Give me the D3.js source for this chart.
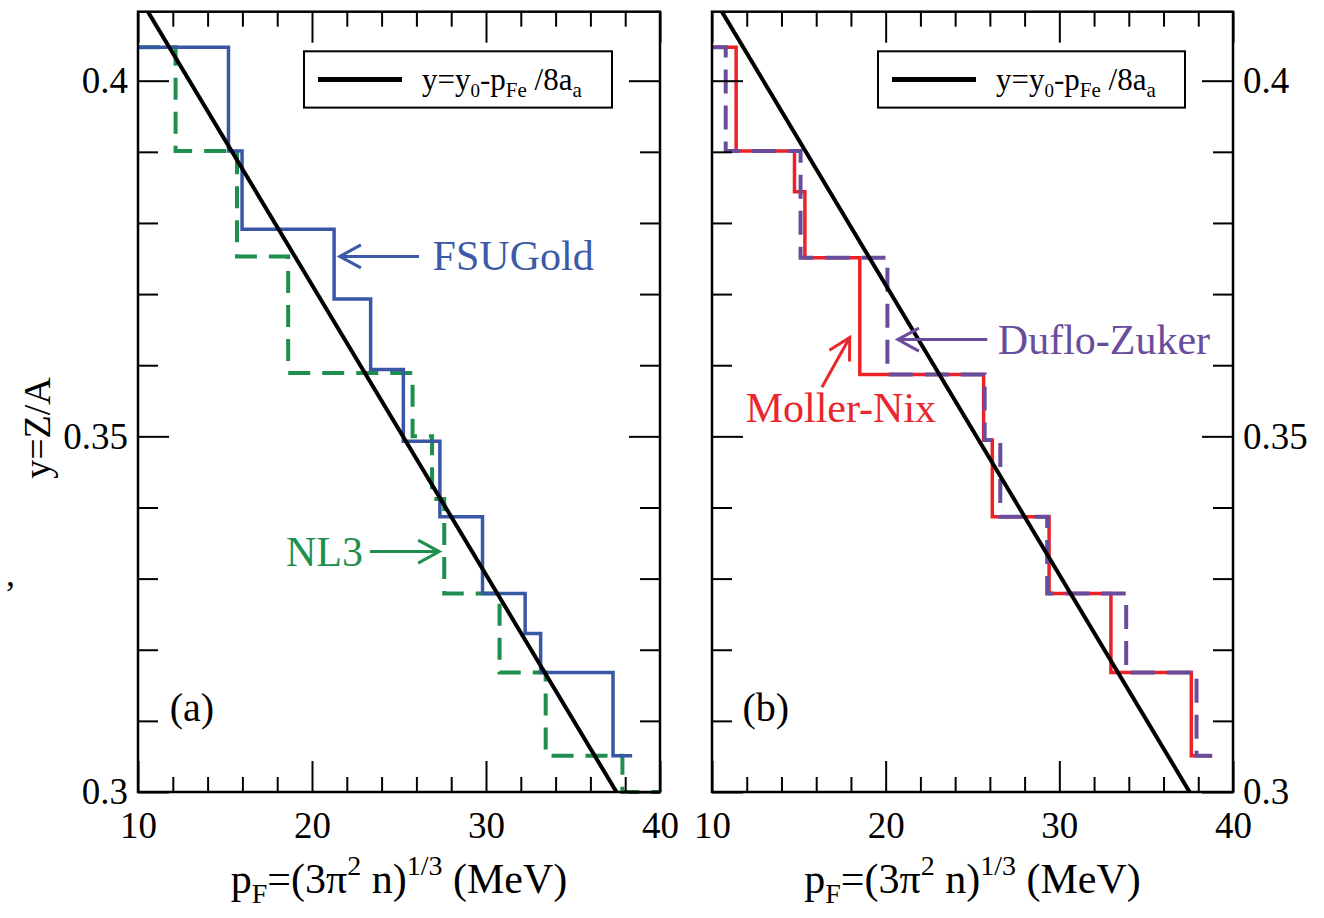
<!DOCTYPE html>
<html><head><meta charset="utf-8">
<script src="https://cdn.jsdelivr.net/npm/d3@7"></script>
<style>
body{margin:0;background:#fff}
svg{display:block}
text{font-family:"Liberation Serif","Times New Roman",serif}
</style>
</head><body>
<svg id="c" width="1324" height="918"></svg>
<script>
// ---------- data ----------
const xDomain = [10, 40];
const yDomain = [0.3, 0.4097];
const xMajorTicks = [10, 20, 30, 40];
const xTickLabels = ["10", "20", "30", "40"];
const xMinorTicks = [12, 14, 16, 18, 22, 24, 26, 28, 32, 34, 36, 38];
const yMajorTicks = [0.30, 0.35, 0.40];
const yTickLabels = ["0.3", "0.35", "0.4"];
const yMinorTicks = [0.31, 0.32, 0.33, 0.34, 0.36, 0.37, 0.38, 0.39];

// fit line y = y0 - pFe/8aa (end points inside the frame)
const fitP = [10.57, 37.5];
const fitY = [0.4097, 0.300];

// step curves: edges (p) and levels (Z/A); level i spans edge i .. edge i+1
const fsuP = [10, 15.2, 15.98, 21.27, 23.37, 25.25, 27.35, 29.8, 32.25, 33.14, 37.3, 38.4];
const fsuY = [0.4047, 0.3901, 0.3791, 0.3693, 0.3594, 0.3493, 0.3387, 0.3279, 0.3223, 0.3168, 0.3051];

const nl3P = [10, 12.16, 15.69, 18.63, 25.78, 26.9, 27.6, 30.78, 33.43, 37.84, 40];
const nl3Y = [0.4047, 0.3901, 0.3753, 0.3589, 0.3500, 0.3412, 0.3279, 0.3168, 0.3051, 0.3000];

const mnP = [10, 11.39, 14.75, 15.35, 18.51, 25.64, 26.14, 29.41, 32.97, 37.6, 38.8];
const mnY = [0.4047, 0.3901, 0.3844, 0.3751, 0.3587, 0.3495, 0.3387, 0.3279, 0.3168, 0.3051];

const dzP = [10, 10.79, 15.1, 20.1, 25.7, 26.6, 29.3, 33.85, 37.9, 38.8];
const dzY = [0.4047, 0.3901, 0.3751, 0.3587, 0.3495, 0.3387, 0.3279, 0.3168, 0.3051];

const legendText = ["y=y", "0", "-p", "Fe", " /8a", "a"];

// ---------- layout ----------
const W = 1324, H = 918;
const frameTop = 11.7, frameBottom = 792;
const panels = [
  {id: "a", left: 138, right: 660, tag: "(a)", yLabels: "left",
   series: [
     {P: nl3P, Y: nl3Y, color: "#1f8f4e", width: 4, dash: "22,12"},
     {P: fsuP, Y: fsuY, color: "#3a57a7", width: 3.5, dash: null}
   ],
   notes: [
     {text: "FSUGold", color: "#3d5aa8", p: 26.93, v: 0.3734, anchor: "start",
      arrow: [26.15, 0.3753, 21.6, 0.3753]},
     {text: "NL3", color: "#1f8f4e", p: 22.93, v: 0.3318, anchor: "end",
      arrow: [23.33, 0.3338, 27.31, 0.3338]}
   ]},
  {id: "b", left: 712, right: 1233, tag: "(b)", yLabels: "right",
   series: [
     {P: mnP, Y: mnY, color: "#ec2227", width: 3.5, dash: null},
     {P: dzP, Y: dzY, color: "#6a4c9c", width: 4, dash: "24,12"}
   ],
   notes: [
     {text: "Duflo-Zuker", color: "#6a4c9c", p: 26.46, v: 0.3616, anchor: "start",
      arrow: [25.85, 0.3636, 20.70, 0.3636]},
     {text: "Moller-Nix", color: "#e8262b", p: 17.42, v: 0.3520, anchor: "middle",
      arrow: [16.33, 0.3569, 17.93, 0.3639]}
   ]}
];

const svg = d3.select("#c");
svg.append("rect").attr("width", W).attr("height", H).attr("fill", "#fff");
const y = d3.scaleLinear().domain(yDomain).range([frameBottom, frameTop]);

function styleAxis(sel) {
  sel.select(".domain").remove();
  sel.attr("font-family", null).attr("font-size", null);
  sel.selectAll("line").attr("stroke", "#000").attr("stroke-width", 2);
  sel.selectAll("text").attr("fill", "#000").style("font-size", "37px");
}

function drawArrow(g, x1, y1, x2, y2, color) {
  g.append("line").attr("x1", x1).attr("y1", y1).attr("x2", x2).attr("y2", y2)
    .attr("stroke", color).attr("stroke-width", 3);
  const a = Math.atan2(y2 - y1, x2 - x1), L = 24, s = 0.5;
  const pts = [[x2 - L * Math.cos(a - s), y2 - L * Math.sin(a - s)], [x2, y2],
               [x2 - L * Math.cos(a + s), y2 - L * Math.sin(a + s)]];
  g.append("polyline").attr("points", pts.map(d => d.join(",")).join(" "))
    .attr("fill", "none").attr("stroke", color).attr("stroke-width", 3)
    .attr("stroke-linejoin", "miter");
}

panels.forEach(panel => {
  const x = d3.scaleLinear().domain(xDomain).range([panel.left, panel.right]);
  const g = svg.append("g");
  const clipId = "clip-" + panel.id;
  svg.append("defs").append("clipPath").attr("id", clipId)
    .append("rect").attr("x", panel.left).attr("y", frameTop)
    .attr("width", panel.right - panel.left).attr("height", frameBottom - frameTop + 2);

  const plot = g.append("g").attr("clip-path", `url(#${clipId})`);
  const line = d3.line().x(d => x(d[0])).y(d => y(d[1])).curve(d3.curveStepAfter);

  panel.series.forEach(s => {
    const pts = s.Y.map((v, i) => [s.P[i], v]);
    pts.push([s.P[s.P.length - 1], s.Y[s.Y.length - 1]]);
    plot.append("path").datum(pts).attr("d", line)
      .attr("fill", "none").attr("stroke", s.color).attr("stroke-width", s.width)
      .attr("stroke-dasharray", s.dash).attr("stroke-linejoin", "miter");
  });

  plot.append("path").datum(fitP.map((p, i) => [p, fitY[i]]))
    .attr("d", d3.line().x(d => x(d[0])).y(d => y(d[1])))
    .attr("fill", "none").attr("stroke", "#000").attr("stroke-width", 4);

  // axes (inward ticks)
  const gb = g.append("g").attr("transform", `translate(0,${frameBottom})`)
    .call(d3.axisBottom(x).tickValues(xMajorTicks).tickSize(-31).tickPadding(20)
      .tickFormat((d, i) => xTickLabels[i]));
  styleAxis(gb);
  const gbm = g.append("g").attr("transform", `translate(0,${frameBottom})`)
    .call(d3.axisBottom(x).tickValues(xMinorTicks).tickSize(-15).tickFormat(""));
  styleAxis(gbm);
  const gt = g.append("g").attr("transform", `translate(0,${frameTop})`)
    .call(d3.axisTop(x).tickValues(xMajorTicks).tickSize(-31).tickFormat(""));
  styleAxis(gt);
  const gtm = g.append("g").attr("transform", `translate(0,${frameTop})`)
    .call(d3.axisTop(x).tickValues(xMinorTicks).tickSize(-15).tickFormat(""));
  styleAxis(gtm);

  const gl = g.append("g").attr("transform", `translate(${panel.left},0)`)
    .call(d3.axisLeft(y).tickValues(yMajorTicks).tickSize(-31).tickPadding(10)
      .tickFormat((d, i) => panel.yLabels === "left" ? yTickLabels[i] : ""));
  styleAxis(gl);
  const glm = g.append("g").attr("transform", `translate(${panel.left},0)`)
    .call(d3.axisLeft(y).tickValues(yMinorTicks).tickSize(-20).tickFormat(""));
  styleAxis(glm);
  const gr = g.append("g").attr("transform", `translate(${panel.right},0)`)
    .call(d3.axisRight(y).tickValues(yMajorTicks).tickSize(-31).tickPadding(10)
      .tickFormat((d, i) => panel.yLabels === "right" ? yTickLabels[i] : ""));
  styleAxis(gr);
  const grm = g.append("g").attr("transform", `translate(${panel.right},0)`)
    .call(d3.axisRight(y).tickValues(yMinorTicks).tickSize(-20).tickFormat(""));
  styleAxis(grm);

  g.append("rect").attr("x", panel.left).attr("y", frameTop)
    .attr("width", panel.right - panel.left).attr("height", frameBottom - frameTop)
    .attr("fill", "none").attr("stroke", "#000").attr("stroke-width", 2.5);

  // legend
  const lx = panel.left + 166, lr = panel.right - 48;
  g.append("rect").attr("x", lx).attr("y", 51.3).attr("width", lr - lx).attr("height", 56.3)
    .attr("fill", "#fff").attr("stroke", "#000").attr("stroke-width", 2);
  g.append("line").attr("x1", lx + 14).attr("x2", lx + 98).attr("y1", 79.5).attr("y2", 79.5)
    .attr("stroke", "#000").attr("stroke-width", 5);
  const lt = g.append("text").attr("x", lx + 118).attr("y", 90).style("font-size", "31px");
  lt.append("tspan").text(legendText[0]);
  lt.append("tspan").attr("dy", 7).style("font-size", "19px").text(legendText[1]);
  lt.append("tspan").attr("dy", -7).text(legendText[2]);
  lt.append("tspan").attr("dy", 7).style("font-size", "21px").text(legendText[3]);
  lt.append("tspan").attr("dy", -7).text(legendText[4]);
  lt.append("tspan").attr("dy", 7).style("font-size", "21px").text(legendText[5]);

  // panel tag
  g.append("text").attr("x", x(13.1)).attr("y", y(0.3100)).attr("text-anchor", "middle")
    .style("font-size", "40px").text(panel.tag);

  // annotations
  panel.notes.forEach(n => {
    g.append("text").attr("x", x(n.p)).attr("y", y(n.v)).attr("text-anchor", n.anchor)
      .attr("fill", n.color).style("font-size", "42px").text(n.text);
    drawArrow(g, x(n.arrow[0]), y(n.arrow[1]), x(n.arrow[2]), y(n.arrow[3]), n.color);
  });

  // x axis title
  const cx = (panel.left + panel.right) / 2;
  const t = g.append("text").attr("x", cx).attr("y", 893).attr("text-anchor", "middle")
    .style("font-size", "42px");
  t.append("tspan").text("p");
  t.append("tspan").attr("dy", 10).style("font-size", "28px").text("F");
  t.append("tspan").attr("dy", -10).text("=(3π");
  t.append("tspan").attr("dy", -18).style("font-size", "28px").text("2");
  t.append("tspan").attr("dy", 18).text(" n)");
  t.append("tspan").attr("dy", -18).style("font-size", "28px").text("1/3");
  t.append("tspan").attr("dy", 18).text(" (MeV)");
});

// y axis title and stray comma
svg.append("text").attr("transform", "translate(50,428) rotate(-90)").attr("text-anchor", "middle")
  .style("font-size", "38px").text("y=Z/A");
svg.append("text").attr("x", 6).attr("y", 586).style("font-size", "36px").text(",");
</script>
</body></html>
